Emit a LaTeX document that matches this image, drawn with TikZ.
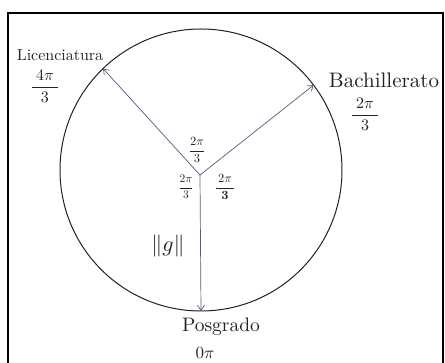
\documentclass[tikz,border=0pt]{standalone}
\usepackage{amsmath}
\usepackage{graphicx}
\usetikzlibrary{arrows.meta,calc}
\definecolor{ink}{HTML}{222222}
\definecolor{arr}{HTML}{5A5A82}
\tikzset{
  lbl/.style={text=ink, inner sep=1pt},
  vec/.style={draw=arr, line width=0.7pt, -{Straight Barb[length=5pt,width=7pt]}},
}
\begin{document}
\begin{tikzpicture}[x=1pt,y=1pt]
\useasboundingbox (0,0) rectangle (445,363);
\fill[white] (0,0) rectangle (445,363);
\draw[black, line width=2pt] (8,-10) rectangle (443,350);
\coordinate (C) at (201,193);
\draw[ink, line width=1pt] (C) circle (141);
\coordinate (H) at (200,188);
\coordinate (L) at ($(C)+(134:141)$);
\coordinate (B) at ($(C)+(37:141)$);
\coordinate (P) at ($(C)+(270:141)$);
\draw[vec] (H) -- (L);
\draw[vec] (H) -- (B);
\draw[vec] (H) -- (P);
\node[lbl] (lic) at (60,308) {\scalebox{1.6}{Licenciatura}};
\node[lbl] (licf) at (45,277) {\scalebox{1.6}{$\dfrac{\;4\pi\;}{3}$}};
\node[lbl] (bach) at (384,283) {\scalebox{2.1}{Bachillerato}};
\node[lbl] (bachf) at (365,249) {\scalebox{1.6}{$\dfrac{\;2\pi\;}{3}$}};
\node[lbl] (ct) at (197,213) {\scalebox{1.25}{$\dfrac{2\pi}{3}$}};
\node[lbl] (cl) at (186,176) {\scalebox{1.15}{$\dfrac{2\pi}{3}$}};
\node[lbl] (cr) at (225,176) {\scalebox{1.25}{$\dfrac{\,2\pi\,}{\mathbf{3}}$}};
\node[lbl] (g) at (168,117) {\scalebox{2.2}{$\|g\|$}};
\node[lbl] (pos) at (221,36) {\scalebox{1.95}{Posgrado}};
\node[lbl] (zero) at (205,10) {\scalebox{1.7}{$0\pi$}};
\end{tikzpicture}
\end{document}
